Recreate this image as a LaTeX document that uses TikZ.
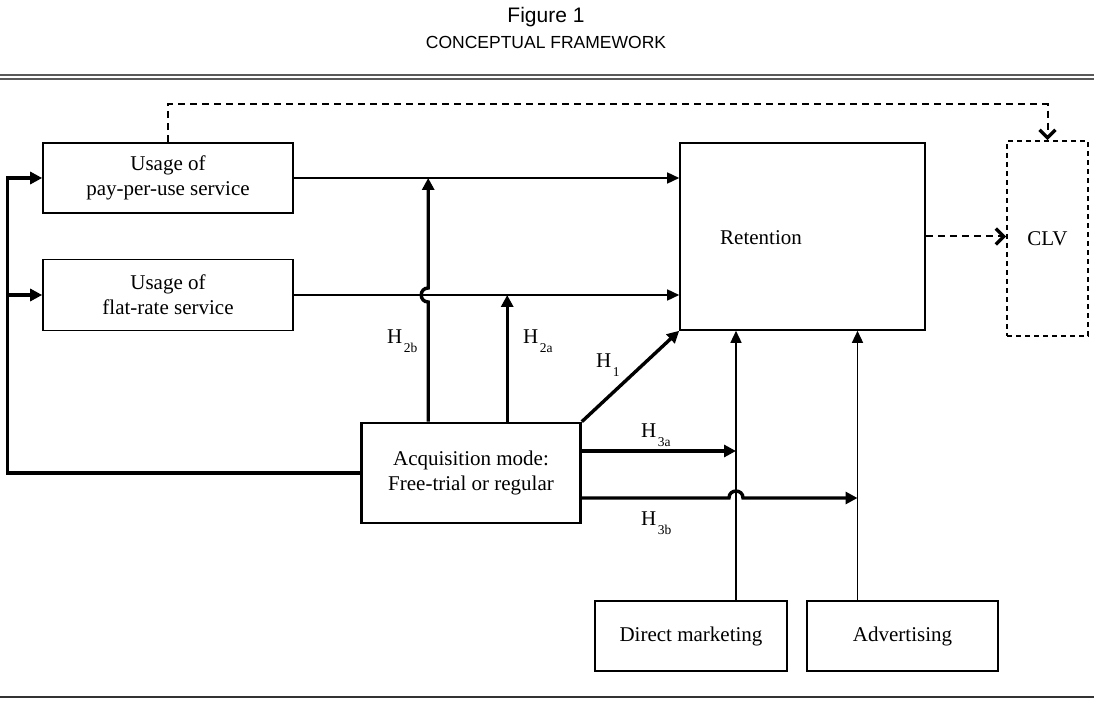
\documentclass[tikz,border=0pt]{standalone}
\usepackage{fontspec}
\setmainfont{Liberation Serif}
\newfontfamily\titlefont{Liberation Sans}
\usetikzlibrary{arrows.meta,positioning,calc}
\newcommand{\hyp}[1]{H\kern1.5pt\raisebox{-9pt}{\fontsize{13.5}{14}\selectfont #1}}

\begin{document}
\begin{tikzpicture}[
    x=1pt,y=-1pt,
    font=\fontsize{21}{25}\selectfont,
    box/.style={draw,line width=1.6pt,align=center,inner sep=0pt},
    thinarrow/.style={line width=1.5pt,-{Triangle[length=12pt,width=11pt]}},
    thickarrow/.style={line width=3.4pt,-{Triangle[length=12pt,width=12pt]}},
    dasharrow/.style={line width=2pt,dash pattern=on 7pt off 5pt,-{Straight Barb[length=8pt,width=16pt,line width=3.4pt]}},
    hlabel/.style={anchor=base west,inner sep=0pt}
  ]
    \useasboundingbox (0,0) rectangle (1097,708);

    % title and rules
    \node[font=\titlefont\fontsize{21}{25}\selectfont,anchor=base] (fig) at (546,23) {Figure 1};
    \node[font=\titlefont\fontsize{17.5}{20}\selectfont,anchor=base] (subt) at (546,49) {CONCEPTUAL FRAMEWORK};
    \draw[black!65,line width=1.2pt] (0,75) -- (1094,75);
    \draw[black!65,line width=1.2pt] (0,79) -- (1094,79);
    \draw[black!80,line width=1.2pt] (0,697) -- (1094,697);

    % boxes
    \node[box,minimum width=250pt,minimum height=70pt] (pay) at (168,178) {Usage of\\pay-per-use service};
    \node[box,minimum width=250pt,minimum height=71pt] (flat) at (168,295) {Usage of\\flat-rate service};
    \node[box,minimum width=245pt,minimum height=187pt] (ret) at (802.5,236.5) {};
    \node (rettext) at (761,238) {Retention};
    \node[box,dashed,dash pattern=on 5pt off 4pt,minimum width=81pt,minimum height=195pt] (clv) at (1047.5,238.5) {CLV};
    \node[box,line width=2.6pt,minimum width=219pt,minimum height=100pt] (acq) at (471,473) {Acquisition mode:\\Free-trial or regular};
    \node[box,minimum width=192pt,minimum height=70pt] (dm) at (691,636) {Direct marketing};
    \node[box,minimum width=191pt,minimum height=70pt] (adv) at (902.5,636) {Advertising};

    % helper points
    \coordinate (h2b) at ($(acq.north west)+(68,0)$);
    \coordinate (h2a) at ($(acq.north west)+(147,0)$);
    \coordinate (h3a) at ($(acq.east)+(0,-22)$);
    \coordinate (h3b) at ($(acq.east)+(0,25)$);
    \coordinate (dmtop) at ($(dm.north)+(45,0)$);
    \coordinate (advtop) at ($(adv.north)+(-45,0)$);
    \coordinate (back) at ($(acq.west)+(-353,0)$);

    % usage to retention
    \draw[thinarrow] (pay.east) -- (pay.east -| ret.west);
    \draw[thinarrow] (flat.east) -- (flat.east -| ret.west);

    % acquisition mode effects
    \draw[thickarrow] (h2b) -- ($(h2b |- flat.east)+(0,7)$)
      .. controls +(-9.3,0) and +(-9.3,0) .. ($(h2b |- flat.east)+(0,-7)$) -- (h2b |- pay.east);
    \draw[thickarrow] (h2a) -- (h2a |- flat.east);
    \draw[thickarrow] (acq.north east) -- (ret.south west);
    \draw[thickarrow] (h3a) -- (h3a -| dmtop);
    \draw[thickarrow] (h3b) -- ($(h3b -| dmtop)+(-7,0)$)
      .. controls +(0,-9.3) and +(0,-9.3) .. ($(h3b -| dmtop)+(7,0)$) -- (h3b -| advtop);
    \draw[thickarrow] (acq.west) -- (back) |- (pay.west);
    \draw[thickarrow] (back |- flat.west) -- (flat.west);

    % marketing
    \draw[thinarrow] (dmtop) -- (dmtop |- ret.south);
    \draw[thinarrow] (advtop) -- (advtop |- ret.south);

    % clv
    \draw[dasharrow] (pay.north) -- ++(0,-38) -| (clv.north);
    \draw[dasharrow] (ret.east) -- (ret.east -| clv.west);

    % hypothesis labels
    \node[hlabel] (l2b) at (387,344) {\hyp{2b}};
    \node[hlabel] (l2a) at (523,344) {\hyp{2a}};
    \node[hlabel] (l1) at (596,367) {\hyp{1}};
    \node[hlabel] (l3a) at (641,437) {\hyp{3a}};
    \node[hlabel] (l3b) at (641,525) {\hyp{3b}};
  \end{tikzpicture}
\end{document}
